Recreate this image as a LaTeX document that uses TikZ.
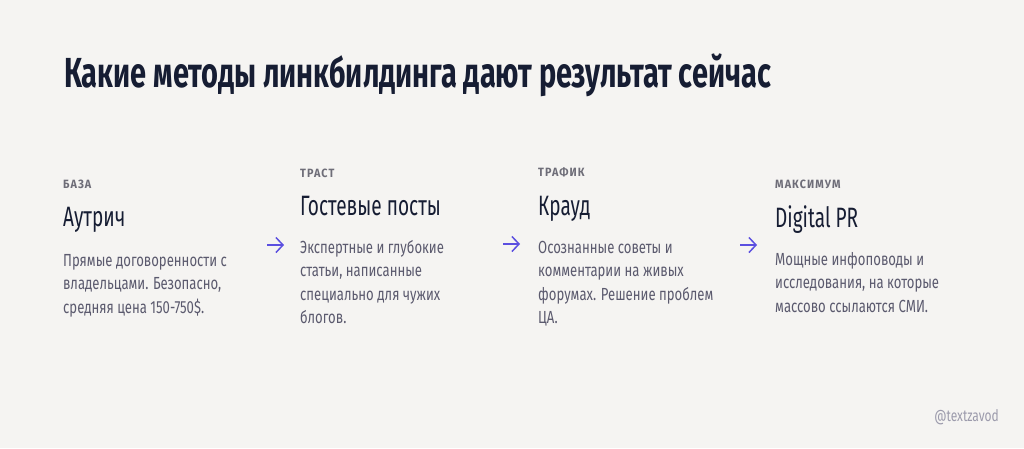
\documentclass[tikz,border=0pt]{standalone}
\usepackage{fontspec}
\setmainfont[FakeStretch=0.75]{Fira Sans}
\newfontfamily\titlefont[FakeStretch=0.69]{Fira Sans}
\newfontfamily\headfont[FakeStretch=0.68]{Fira Sans}
\newfontfamily\tagfont[FakeStretch=0.9,LetterSpace=9]{Fira Sans}
\usetikzlibrary{arrows.meta}
\definecolor{bgcol}{HTML}{F5F4F2}
\definecolor{navy}{HTML}{161D33}
\definecolor{tagcol}{HTML}{6E6D78}
\definecolor{bodycol}{HTML}{5B5A6E}
\definecolor{arrcol}{HTML}{5B4FE0}
\definecolor{markcol}{HTML}{9C9BAC}

\begin{document}
\begin{tikzpicture}[x=1pt, y=-1pt,
        tag/.style={anchor=base west, inner sep=0pt, text=tagcol, font=\tagfont\bfseries\fontsize{12}{14}\selectfont},
        head/.style={anchor=base west, inner sep=0pt, text=navy, font=\headfont\fontsize{28}{32}\selectfont},
        body/.style={anchor=base west, inner sep=0pt, align=left, text=bodycol, font=\fontsize{17.5}{23.5}\selectfont},
        arr/.style={-{Straight Barb[length=7pt,width=15pt]}, draw=arrcol, line width=1.5pt}]
    \fill[bgcol] (0,0) rectangle (1024,448);
    \useasboundingbox (0,0) rectangle (1024,448);

    \node[anchor=base west, inner sep=0pt, text=navy, font=\titlefont\bfseries\fontsize{42}{48}\selectfont] (title) at (64,87) {Какие методы линкбилдинга дают результат сейчас};

    % column 1 (base = last line)
    \node[tag] (tag1) at (63,188) {БАЗА};
    \node[head] (head1) at (63,226) {Аутрич};
    \node[body] (body1) at (63,313) {Прямые договоренности с\\владельцами. Безопасно,\\средняя цена 150-750\$.};

    % column 2
    \node[tag] (tag2) at (300,177) {ТРАСТ};
    \node[head] (head2) at (300,215) {Гостевые посты};
    \node[body] (body2) at (300,323.5) {Экспертные и глубокие\\статьи, написанные\\специально для чужих\\блогов.};

    % column 3
    \node[tag] (tag3) at (538,176) {ТРАФИК};
    \node[head] (head3) at (538,215) {Крауд};
    \node[body] (body3) at (538,323.5) {Осознанные советы и\\комментарии на живых\\форумах. Решение проблем\\ЦА.};

    % column 4
    \node[tag] (tag4) at (775,188) {МАКСИМУМ};
    \node[head] (head4) at (775,227) {Digital PR};
    \node[body] (body4) at (775,312) {Мощные инфоповоды и\\исследования, на которые\\массово ссылаются СМИ.};

    % arrows
    \coordinate (a1) at (267,245);
    \coordinate (b1) at (284,245);
    \coordinate (a2) at (503,244);
    \coordinate (b2) at (520,244);
    \coordinate (a3) at (740,245);
    \coordinate (b3) at (757,245);
    \draw[arr] (a1) -- (b1);
    \draw[arr] (a2) -- (b2);
    \draw[arr] (a3) -- (b3);

    \node[anchor=base east, inner sep=0pt, text=markcol, font=\fontsize{16}{18}\selectfont] (mark) at (999,421) {@textzavod};
\end{tikzpicture}
\end{document}
